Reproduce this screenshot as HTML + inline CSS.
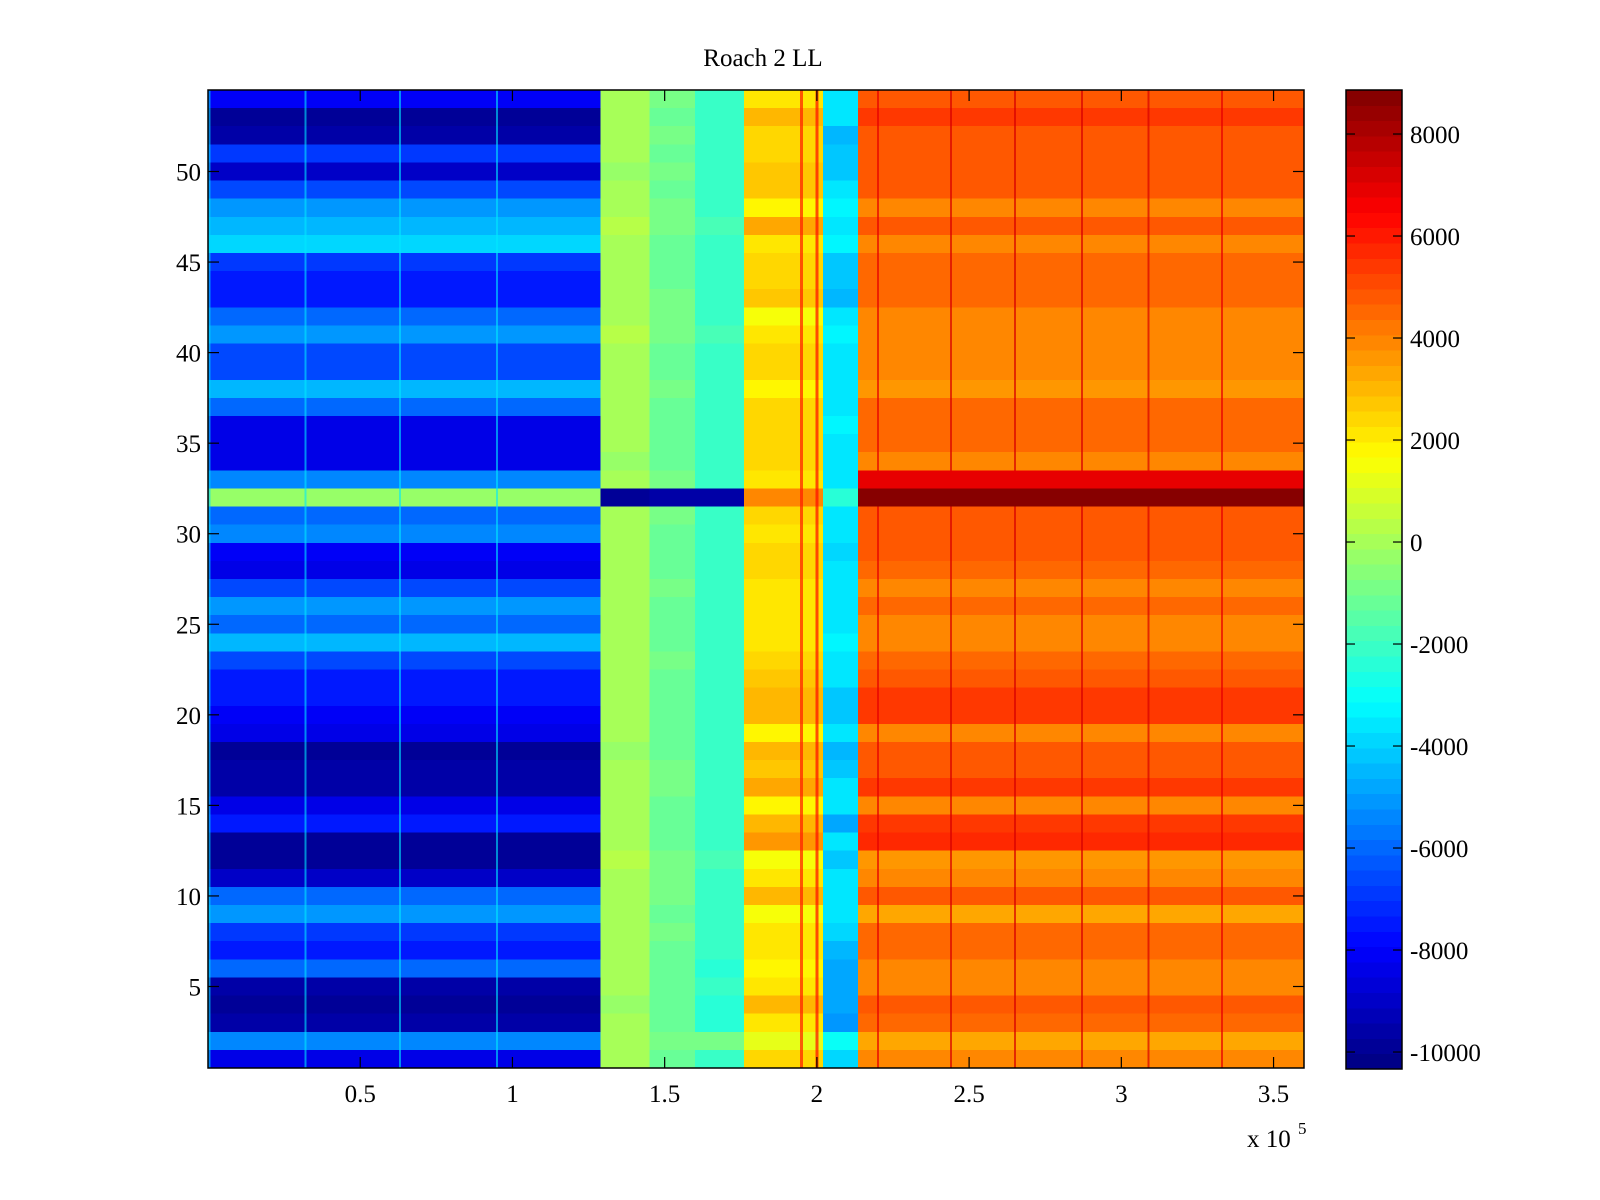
<!DOCTYPE html>
<html><head><meta charset="utf-8"><style>
html,body{margin:0;padding:0;background:#fff;}
svg{display:block;font-family:"Liberation Serif",serif;}
</style></head><body>
<svg id="chart" width="1600" height="1200" viewBox="0 0 1600 1200" xmlns="http://www.w3.org/2000/svg">
<rect width="1600" height="1200" fill="#fff"/>
<text x="763" y="66" font-size="25" text-anchor="middle">Roach 2 LL</text>
<g id="cells" shape-rendering="crispEdges"></g>
<g id="cbar" shape-rendering="crispEdges"></g>
<g id="axes"></g>
</svg>
<script>
// ---- data (rows listed from row 54 at top down to row 1) ----
const segEdges = [0, 1.29, 1.45, 1.60, 1.76, 2.02, 2.135, 3.6]; // x (×1e5) boundaries of column blocks
const segA = [-8000,-10000,-9500,-7000,-9000,-6500,-5000,-4500,-4000,-7000,-7500,-7500,-6000,-5000,-6500,-6500,-4500,-6000,-8500,-8500,-8500,-5500,-300,-6000,-5500,-8000,-8500,
              -6500,-5000,-6000,-4500,-6500,-7500,-7500,-8000,-8500,-10000,-9500,-9500,-8500,-7500,-10000,-9800,-9000,-6000,-5000,-7000,-7500,-6000,-9500,-10000,-9500,-5500,-8500];
const segB1 = [100,0,100,0,-200,0,100,200,0,-100,0,-100,100,200,0,-100,100,0,0,-100,-200,0,-9800,100,0,-100,0,
               100,0,-100,100,0,-100,0,0,-100,-200,-100,0,100,0,-100,200,100,0,-100,100,0,0,-100,-200,0,100,0];
const segB2 = [-1000,-1100,-1000,-1200,-1000,-1100,-1000,-900,-1100,-1200,-1100,-1000,-1000,-900,-1100,-1200,-1000,-1100,-1100,-1200,-1100,-1000,-9500,-1000,-1100,-1200,-1100,
               -1000,-1100,-1200,-1100,-1000,-1200,-1100,-1100,-1200,-1100,-1000,-1000,-1100,-1200,-1100,-900,-1000,-1000,-1100,-1000,-1100,-1200,-1100,-1200,-1100,-1000,-1100];
const segB3 = [-2000,-2100,-2000,-2200,-2100,-2000,-2000,-1900,-2100,-2200,-2100,-2100,-2000,-1900,-2100,-2200,-2000,-2100,-2100,-2200,-2100,-2000,-9700,-2000,-2100,-2200,-2100,
               -2000,-2100,-2200,-2100,-2000,-2200,-2100,-2100,-2200,-2100,-2000,-2000,-2100,-2200,-2100,-1900,-2000,-2000,-2100,-2000,-2200,-2300,-2200,-2300,-2400,-1000,-2100];
const segC = [2000,3000,2500,2500,2800,2700,1800,3300,2000,2500,2500,2800,1500,2000,2500,2500,1800,2300,2500,2500,2500,2000,4000,2500,2200,2500,2500,
              2000,2000,2200,2000,2500,2700,3000,3000,1800,3000,2800,3200,1800,3000,3500,1500,2000,3000,1500,2000,2000,1800,2000,3000,2000,1200,2500];
const segD = [-3500,-3700,-4500,-4200,-4300,-3500,-3400,-3600,-3400,-4200,-4300,-4400,-3500,-3300,-3500,-3600,-3500,-3500,-3400,-3600,-3600,-3500,-2500,-3500,-3500,-3800,-3500,
              -3500,-3500,-3500,-3400,-3500,-3600,-4200,-4300,-3600,-4500,-4200,-3700,-3700,-4800,-3700,-4200,-3700,-3600,-3500,-4000,-4500,-4800,-4800,-4800,-5000,-3000,-3800];
const segE = [4800,5300,4800,4800,4800,4800,4000,4800,4000,4500,4500,4500,4000,4000,4000,4000,3600,4500,4500,4500,4000,6900,8700,4800,4800,4800,4500,
              4000,4500,4000,4000,4500,4800,5300,5300,4000,4800,4800,5300,4000,5300,5700,3600,4000,4800,3200,4500,4500,4000,4000,4800,4500,3200,4000];
const linesA = [0.005, 0.32, 0.63, 0.95];       // cyan vertical streaks in first block
const linesAVal = [-4000,-3500,-3500,-3500];
const linesC = [1.95, 2.00];                     // red vertical streaks in third block
const linesCVal = [6000, 6300];
const linesE = [2.20, 2.44, 2.65, 2.87, 3.09, 3.33];
const linesEVal = [7000, 7300, 7100, 7300, 7100, 6900];
const xTicks = [0.5, 1, 1.5, 2, 2.5, 3, 3.5];
const xTickLabels = ["0.5","1","1.5","2","2.5","3","3.5"];
const yTicks = [5,10,15,20,25,30,35,40,45,50];
const cTicks = [-10000,-8000,-6000,-4000,-2000,0,2000,4000,6000,8000];

// ---- geometry ----
const L=208,R=1304,T=90,B=1068;
const xMin=0,xMax=3.6,yMin=0.5,yMax=54.5;
const cMin=-10333,cMax=8863;
const CBL=1346,CBR=1402;
const X=v=>L+(v-xMin)/(xMax-xMin)*(R-L);
const Y=v=>B-(v-yMin)/(yMax-yMin)*(B-T);
const CY=v=>B+1-(v-cMin)/(cMax-cMin)*(B+1-T);
const NS='http://www.w3.org/2000/svg';
function jet(i){
  const t=(i+0.5)/64;
  const f=c=>Math.max(0,Math.min(1,1.5-Math.abs(4*t-c)));
  const r=f(3),g=f(2),b=f(1);
  return `rgb(${Math.round(r*255)},${Math.round(g*255)},${Math.round(b*255)})`;
}
function colorOf(v){let i=Math.floor((v-cMin)/(cMax-cMin)*64);i=Math.max(0,Math.min(63,i));return jet(i);}
function mk(tag,attrs,parent){const e=document.createElementNS(NS,tag);for(const k in attrs)e.setAttribute(k,attrs[k]);parent.appendChild(e);return e;}

const cells=document.getElementById('cells');
const segs=[segA,segB1,segB2,segB3,segC,segD,segE];
const segNames=['a','b1','b2','b3','c','d','e'];
for(let s=0;s<segs.length;s++){
  for(let k=0;k<54;k++){
    const row=54-k;
    const x0=X(segEdges[s]),x1=X(segEdges[s+1]);
    const y0=Y(row+0.5),y1=Y(row-0.5);
    const r=mk('rect',{x:x0.toFixed(2),y:y0.toFixed(2),width:(x1-x0+0.5).toFixed(2),height:(y1-y0+0.5).toFixed(2),fill:colorOf(segs[s][k])},cells);
    
    
  }
}
function streaks(xs,vals,w,op,name,skipRows){
  xs.forEach((x,i)=>{
    const y0=Y(54.5),y1=Y(0.5);
    if(skipRows){
      const r1=mk('rect',{x:X(x)-w/2,y:y0,width:w,height:Y(33.5)-y0,fill:colorOf(vals[i]),opacity:op},cells);
      
      
      const r2=mk('rect',{x:X(x)-w/2,y:Y(31.5),width:w,height:y1-Y(31.5),fill:colorOf(vals[i]),opacity:op},cells);
      
      
    } else {
      const r=mk('rect',{x:X(x)-w/2,y:y0,width:w,height:y1-y0,fill:colorOf(vals[i]),opacity:op},cells);
      
      
    }
  });
}
streaks(linesA,linesAVal,2,0.6,'streak-a',false);
streaks(linesC,linesCVal,3,0.7,'streak-c',false);
streaks(linesE,linesEVal,2,0.7,'streak-e',true);

const cb=document.getElementById('cbar');
for(let i=0;i<64;i++){
  const v0=cMin+i*(cMax-cMin)/64,v1=cMin+(i+1)*(cMax-cMin)/64;
  const r=mk('rect',{x:CBL,y:CY(v1).toFixed(2),width:CBR-CBL,height:(CY(v0)-CY(v1)+0.5).toFixed(2),fill:jet(i)},cb);
  
  
}

const ax=document.getElementById('axes');
const fr=mk('rect',{x:L,y:T,width:R-L,height:B-T,fill:'none',stroke:'#000','stroke-width':1.5},ax);


const cf=mk('rect',{x:CBL,y:T,width:CBR-CBL,height:B+1-T,fill:'none',stroke:'#000','stroke-width':1.5},ax);


xTicks.forEach((t,i)=>{
  const x=X(t);
  mk('line',{x1:x,y1:B,x2:x,y2:B-11,stroke:'#000','stroke-width':1.2},ax);
  mk('line',{x1:x,y1:T,x2:x,y2:T+11,stroke:'#000','stroke-width':1.2},ax);
  const tx=mk('text',{x:x,y:B+34,'font-size':25,'text-anchor':'middle'},ax);
  tx.textContent=xTickLabels[i];
  
  
});
yTicks.forEach(t=>{
  const y=Y(t);
  mk('line',{x1:L,y1:y,x2:L+11,y2:y,stroke:'#000','stroke-width':1.2},ax);
  mk('line',{x1:R,y1:y,x2:R-11,y2:y,stroke:'#000','stroke-width':1.2},ax);
  const tx=mk('text',{x:L-7,y:y+9,'font-size':25,'text-anchor':'end'},ax);
  tx.textContent=String(t);
  
  
});
cTicks.forEach(t=>{
  const y=CY(t);
  mk('line',{x1:CBL,y1:y,x2:CBL+9,y2:y,stroke:'#000','stroke-width':1.2},ax);
  mk('line',{x1:CBR,y1:y,x2:CBR-9,y2:y,stroke:'#000','stroke-width':1.2},ax);
  const tx=mk('text',{x:1410,y:y+9,'font-size':25},ax);
  tx.textContent=String(t);
  
  
});
const ex=mk('text',{x:1247,y:1147,'font-size':25},ax);
ex.textContent='x 10';


const sup=mk('text',{x:1298,y:1134,'font-size':17},ax);
sup.textContent='5';


</script>
</body></html>
